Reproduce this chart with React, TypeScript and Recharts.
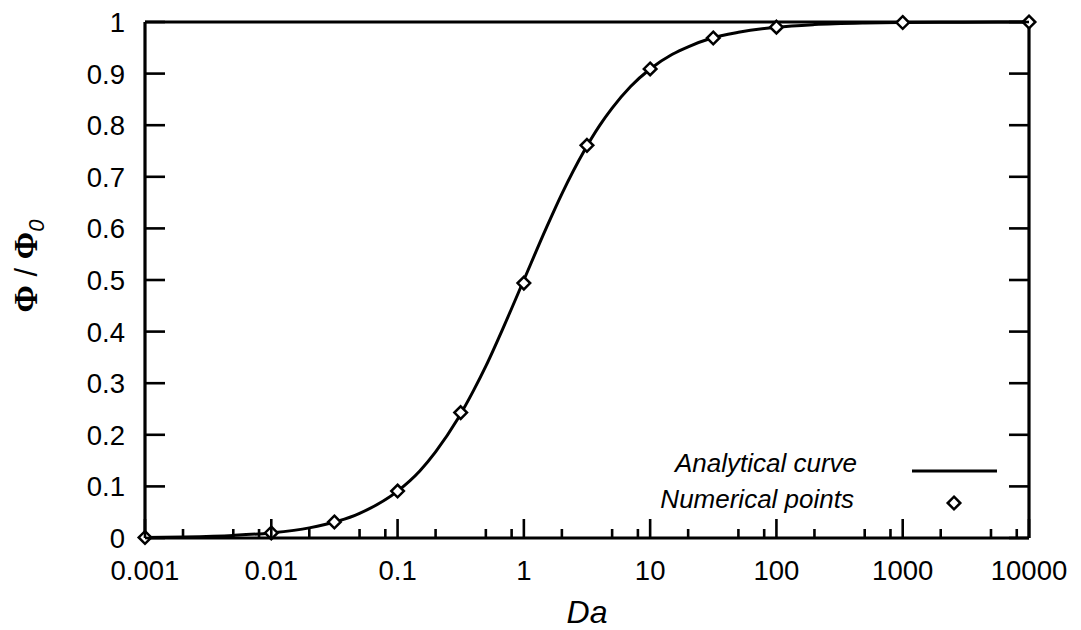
import { ComposedChart, Line, Scatter, XAxis, YAxis } from "recharts";

// analytical curve
const curveDa = [
  0.001, 0.002, 0.005, 0.01, 0.02, 0.05, 0.1, 0.15, 0.2, 0.3, 0.4, 0.5, 0.7, 1,
  1.5, 2, 3, 4, 5, 7, 10, 15, 20, 30, 50, 100, 200, 500, 1000, 3000, 10000,
];
const curvePhi = [
  0.001, 0.002, 0.005, 0.0099, 0.0196, 0.0476, 0.0909, 0.13, 0.167, 0.231, 0.286,
  0.333, 0.412, 0.5, 0.6, 0.667, 0.75, 0.8, 0.833, 0.875, 0.909, 0.9375, 0.952,
  0.968, 0.98, 0.99, 0.995, 0.998, 0.999, 0.9997, 0.9999,
];

// numerical points
const pointDa = [0.001, 0.01, 0.0316, 0.1, 0.316, 1, 3.16, 10, 31.6, 100, 1000, 10000];
const pointPhi = [0.001, 0.0098, 0.031, 0.091, 0.243, 0.494, 0.761, 0.909, 0.969, 0.99, 0.999, 1.0];

const xMajorTicks = [0.001, 0.01, 0.1, 1, 10, 100, 1000, 10000];
const xMinorTicks = [
  0.002, 0.005, 0.008, 0.02, 0.05, 0.08, 0.2, 0.5, 0.8, 2, 5, 8, 20, 50, 80,
  200, 500, 800, 2000, 5000, 8000,
];
const xTickLabels = ["0.001", "0.01", "0.1", "1", "10", "100", "1000", "10000"];
const yTicks = [0, 0.1, 0.2, 0.3, 0.4, 0.5, 0.6, 0.7, 0.8, 0.9, 1];
const yTickLabels = ["0", "0.1", "0.2", "0.3", "0.4", "0.5", "0.6", "0.7", "0.8", "0.9", "1"];
const legendLabels = ["Analytical curve", "Numerical points"];

const curveData = curveDa.map((da, i) => ({ da, phi: curvePhi[i] }));
const pointData = pointDa.map((da, i) => ({ da, phi: pointPhi[i] }));
const allXTicks = [...xMajorTicks, ...xMinorTicks].sort((a, b) => a - b);

const FONT = "'Liberation Sans', Arial, sans-serif";
const MAJOR = 19;
const MINOR = 9;
const TICK_W = 2.6;

const isMajor = (v: number) => xMajorTicks.includes(v);

const BottomTick = ({ x, y, payload }: any) => {
  const v = payload.value;
  const major = isMajor(v);
  const idx = xMajorTicks.indexOf(v);
  return (
    <g>
      <line x1={x} x2={x} y1={y} y2={y - (major ? MAJOR : MINOR)} stroke="#000" strokeWidth={TICK_W} />
      {major && (
        <text x={x} y={y + 42} textAnchor="middle" fontSize={27.5} fontFamily={FONT} fill="#000">
          {xTickLabels[idx]}
        </text>
      )}
    </g>
  );
};

const TopTick = ({ x, y, payload }: any) => {
  const major = isMajor(payload.value);
  return <line x1={x} x2={x} y1={y} y2={y + (major ? MAJOR : MINOR)} stroke="#000" strokeWidth={TICK_W} />;
};

const LeftTick = ({ x, y, payload }: any) => {
  const idx = yTicks.indexOf(payload.value);
  return (
    <g>
      <line x1={x} x2={x + 20} y1={y} y2={y} stroke="#000" strokeWidth={TICK_W} />
      <text x={x - 20} y={y + 10} textAnchor="end" fontSize={27.5} fontFamily={FONT} fill="#000">
        {yTickLabels[idx]}
      </text>
    </g>
  );
};

const RightTick = ({ x, y }: any) => (
  <line x1={x} x2={x - 20} y1={y} y2={y} stroke="#000" strokeWidth={TICK_W} />
);

const Diamond = ({ cx, cy }: any) => {
  const r = 6.3;
  return (
    <path
      d={`M${cx},${cy - r}L${cx + r},${cy}L${cx},${cy + r}L${cx - r},${cy}Z`}
      fill="#fff"
      stroke="#000"
      strokeWidth={2.5}
    />
  );
};

const YLabel = () => (
  <text
    x={37}
    y={266}
    transform="rotate(-90, 37, 266)"
    textAnchor="middle"
    fontSize={31}
    fontFamily={FONT}
    fill="#000"
  >
    <tspan fontFamily="'Liberation Serif', serif" fontWeight="bold" fontSize={33}>Φ</tspan>
    <tspan> / </tspan>
    <tspan fontFamily="'Liberation Serif', serif" fontWeight="bold" fontSize={33}>Φ</tspan>
    <tspan fontStyle="italic" fontSize={22} dy={7}>0</tspan>
  </text>
);

// x-axis title plus the key in the lower right of the plot
const XLabel = () => (
  <g>
    <text x={587} y={623} textAnchor="middle" fontSize={32} fontStyle="italic" fontFamily={FONT} fill="#000">
      Da
    </text>
    <text x={857} y={472} textAnchor="end" fontSize={26} fontStyle="italic" fontFamily={FONT} fill="#000">
      {legendLabels[0]}
    </text>
    <line x1={912} x2={997} y1={471} y2={471} stroke="#000" strokeWidth={3} />
    <text x={854} y={508} textAnchor="end" fontSize={26} fontStyle="italic" fontFamily={FONT} fill="#000">
      {legendLabels[1]}
    </text>
    <Diamond cx={954} cy={503} />
  </g>
);

export default function App() {
  return (
    <div style={{ position: "absolute", left: 0, top: 0, width: 1081, height: 630, background: "#fff" }}>
      <ComposedChart
        width={1081}
        height={630}
        margin={{ top: 21, right: 51, left: 144, bottom: 91 }}
      >
        <XAxis
          dataKey="da"
          type="number"
          scale="log"
          domain={[0.001, 10000]}
          ticks={allXTicks}
          interval={0}
          height={1}
          tickSize={0}
          tickMargin={0}
          tickLine={false}
          axisLine={{ stroke: "#000", strokeWidth: 3.2 }}
          tick={(p: any) => <BottomTick {...p} />}
          label={<XLabel />}
        />
        <XAxis
          xAxisId="top"
          orientation="top"
          type="number"
          scale="log"
          domain={[0.001, 10000]}
          allowDataOverflow
          ticks={allXTicks}
          interval={0}
          height={1}
          tickSize={0}
          tickMargin={0}
          tickLine={false}
          axisLine={{ stroke: "#000", strokeWidth: 3.2 }}
          tick={(p: any) => <TopTick {...p} />}
        />
        <YAxis
          type="number"
          domain={[0, 1]}
          ticks={yTicks}
          interval={0}
          width={1}
          tickSize={0}
          tickMargin={0}
          tickLine={false}
          axisLine={{ stroke: "#000", strokeWidth: 3.2 }}
          tick={(p: any) => <LeftTick {...p} />}
          label={<YLabel />}
        />
        <YAxis
          yAxisId="right"
          orientation="right"
          type="number"
          domain={[0, 1]}
          allowDataOverflow
          ticks={yTicks}
          interval={0}
          width={1}
          tickSize={0}
          tickMargin={0}
          tickLine={false}
          axisLine={{ stroke: "#000", strokeWidth: 3.2 }}
          tick={(p: any) => <RightTick {...p} />}
        />
        <Line
          data={curveData}
          dataKey="phi"
          type="monotone"
          stroke="#000"
          strokeWidth={3}
          dot={false}
          activeDot={false}
          isAnimationActive={false}
        />
        <Scatter
          data={pointData}
          dataKey="phi"
          shape={(p: any) => <Diamond {...p} />}
          isAnimationActive={false}
        />
      </ComposedChart>
    </div>
  );
}
